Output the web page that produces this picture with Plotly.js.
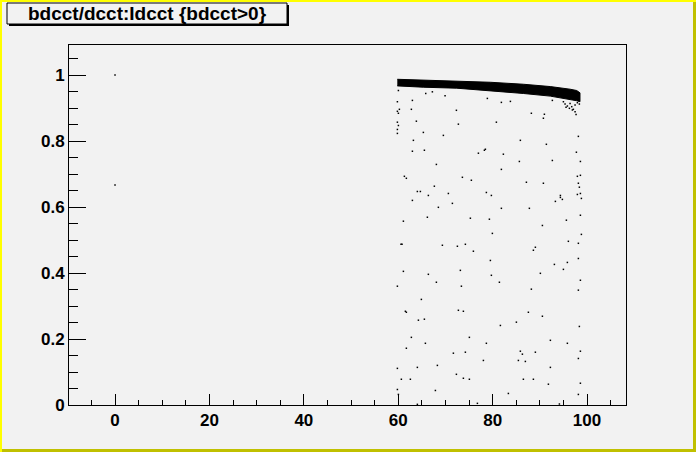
<!DOCTYPE html>
<html><head><meta charset="utf-8">
<script src="https://cdn.plot.ly/plotly-3.0.1.min.js"></script>
<style>html,body{margin:0;padding:0;background:#f2f2f2}#chart{width:696px;height:452px}</style>
</head><body><div id="chart"></div>
<script>
// Dense band (upper and lower edge of the band of points)
const bandX      = [59.8, 65.3, 72.4, 79.5, 86.5, 92.2, 96.4, 97.8, 98.5];
const bandTop    = [0.987, 0.985, 0.982, 0.978, 0.972, 0.965, 0.957, 0.953, 0.946];
const bandBottom = [0.967, 0.963, 0.960, 0.953, 0.944, 0.936, 0.926, 0.922, 0.919];

// Isolated points (Idcct, bdcct/dcct)
const ptsX = [0, 0,
  60.03, 65.82, 67.23, 69.92, 78.88, 83.69,
  59.82, 63.0, 60.24, 59.82, 60.03, 62.78, 72.32, 59.82, 60.03, 63.84, 72.74, 80.79,
  59.82, 59.82, 65.32, 69.56, 63.21, 63.0, 65.54, 76.98, 78.25, 78.46, 68.08, 61.30,
  61.72, 73.59, 75.49, 67.65, 64.05, 64.69, 66.38, 70.62, 78.67, 79.73, 63.0, 71.47,
  81.85, 83.76, 92.65, 88.20, 90.96, 90.75, 98.16, 85.87, 91.38, 97.74, 82.27, 92.65,
  85.66, 98.59, 81.85, 98.59, 97.95, 87.15, 90.75, 98.16, 98.37, 94.35, 94.35, 98.59,
  97.95, 94.77, 98.80, 93.29,
  94.99, 95.34, 95.83, 96.40, 96.75, 97.10, 97.46, 97.95, 98.37, 97.46, 97.67, 95.55, 96.26, 96.89,
  68.50, 61.09, 66.17, 75.28, 79.31, 79.94, 60.59, 60.80, 69.35, 72.53, 74.22, 75.92,
  79.52, 61.09, 66.38, 73.16, 79.73, 59.82, 68.08, 73.38, 81.43, 64.90,
  81.85, 87.78, 98.59, 95.62, 90.54, 98.80, 96.04, 98.16, 89.05, 88.63, 98.16, 95.83,
  93.08, 94.99, 90.11, 98.59, 88.20, 98.16,
  61.51, 61.72, 72.74, 73.80, 64.27, 65.54, 62.78, 75.07, 65.75, 78.67, 61.72, 71.68,
  74.22, 78.04, 68.29, 59.82, 64.05, 72.32, 60.66, 62.57, 73.80, 75.07, 67.87, 59.82,
  60.03, 64.05, 76.77,
  87.57, 90.54, 81.64, 85.03, 98.37, 92.23, 95.83, 85.87, 86.30, 89.05, 98.59, 85.45,
  86.93, 98.16, 92.23, 86.51, 88.63, 91.81, 98.59, 83.33, 98.16, 94.14];
const ptsY = [1.0, 0.667,
  0.953, 0.944, 0.949, 0.937, 0.929, 0.949,
  0.919, 0.923, 0.896, 0.890, 0.884, 0.896, 0.893, 0.857, 0.847, 0.860, 0.851, 0.857,
  0.835, 0.823, 0.826, 0.817, 0.802, 0.769, 0.772, 0.763, 0.772, 0.775, 0.729, 0.693,
  0.687, 0.690, 0.681, 0.663, 0.647, 0.647, 0.635, 0.641, 0.644, 0.635, 0.620, 0.611,
  0.917, 0.920, 0.923, 0.884, 0.881, 0.869, 0.814, 0.802, 0.790, 0.766, 0.760, 0.741,
  0.738, 0.738, 0.714, 0.696, 0.693, 0.675, 0.672, 0.672, 0.660, 0.635, 0.629, 0.641,
  0.638, 0.623, 0.626, 0.617,
  0.919, 0.912, 0.906, 0.914, 0.904, 0.896, 0.909, 0.916, 0.912, 0.889, 0.880, 0.902, 0.899, 0.894,
  0.599, 0.557, 0.569, 0.566, 0.563, 0.520, 0.487, 0.487, 0.484, 0.481, 0.487, 0.466,
  0.438, 0.405, 0.396, 0.408, 0.393, 0.360, 0.372, 0.360, 0.372, 0.320,
  0.596, 0.596, 0.575, 0.560, 0.544, 0.517, 0.496, 0.490, 0.478, 0.469, 0.444, 0.432,
  0.426, 0.411, 0.399, 0.378, 0.351, 0.348,
  0.284, 0.281, 0.287, 0.284, 0.257, 0.260, 0.205, 0.205, 0.187, 0.187, 0.172, 0.157,
  0.160, 0.135, 0.120, 0.111, 0.114, 0.093, 0.078, 0.078, 0.081, 0.078, 0.044, 0.047,
  0.032, 0.002, 0.005,
  0.281, 0.269, 0.241, 0.251, 0.238, 0.196, 0.187, 0.163, 0.154, 0.160, 0.163, 0.135,
  0.132, 0.141, 0.114, 0.078, 0.078, 0.063, 0.066, 0.035, 0.032, 0.003];

const titleText = 'bdcct/dcct:Idcct {bdcct>0}';

// helpers: pixel -> paper coordinates (plot area 69..626 x 45..405)
const L = 69, R = 626, T = 45, B = 405;
const fx = p => (p - L) / (R - L);
const fy = p => (B - p) / (B - T);

const band = {
  x: bandX.concat(bandX.slice().reverse()),
  y: bandTop.concat(bandBottom.slice().reverse()),
  type: 'scatter', mode: 'lines', fill: 'toself',
  fillcolor: '#000', line: {color: '#000', width: 1}, hoverinfo: 'skip'
};
const pts = {
  x: ptsX, y: ptsY, type: 'scatter', mode: 'markers',
  marker: {symbol: 'square', size: 1.5, color: '#000', line: {width: 0}}
};

const tickFont = {family: 'Liberation Sans, Arial, sans-serif', size: 17, color: '#000', weight: 'bold'};

const layout = {
  width: 696, height: 452,
  margin: {l: L, r: 696 - R, t: T, b: 452 - B, pad: 0},
  paper_bgcolor: '#f2f2f2', plot_bgcolor: '#f2f2f2',
  showlegend: false,
  title: {text: titleText, font: {family: 'Liberation Sans, Arial, sans-serif', size: 19, color: '#000', weight: 'bold'},
          x: 147 / 696, xanchor: 'center', xref: 'container', y: 1 - 13.5 / 452, yanchor: 'middle', yref: 'container'},
  xaxis: {range: [-9.75, 108.25], tick0: 0, dtick: 20, ticks: 'inside', ticklen: 11, tickwidth: 1, tickcolor: '#000',
          minor: {dtick: 5, tick0: 0, ticks: 'inside', ticklen: 5.5, tickcolor: '#000', tickwidth: 1},
          showline: true, linecolor: '#000', linewidth: 1, mirror: true, showgrid: false, zeroline: false,
          tickfont: tickFont},
  yaxis: {range: [0, 1.0909], tick0: 0, dtick: 0.2, ticks: 'inside', ticklen: 17, tickwidth: 1, tickcolor: '#000',
          minor: {dtick: 0.05, tick0: 0, ticks: 'inside', ticklen: 8.5, tickcolor: '#000', tickwidth: 1},
          showline: true, linecolor: '#000', linewidth: 1, mirror: true, showgrid: false, zeroline: false,
          tickfont: tickFont},
  shapes: [
    // title box shadow + box
    {type: 'rect', xref: 'paper', yref: 'paper', x0: fx(9), x1: fx(289), y0: fy(26), y1: fy(5), fillcolor: '#000', line: {width: 0}},
    {type: 'rect', xref: 'paper', yref: 'paper', x0: fx(7), x1: fx(287), y0: fy(24), y1: fy(3), fillcolor: '#f2f2f2', line: {color: '#000', width: 1}},
    // canvas border
    {type: 'rect', xref: 'paper', yref: 'paper', x0: fx(0), x1: fx(2), y0: fy(452), y1: fy(0), fillcolor: '#ffff00', line: {width: 0}},
    {type: 'rect', xref: 'paper', yref: 'paper', x0: fx(0), x1: fx(696), y0: fy(2), y1: fy(0), fillcolor: '#ffff00', line: {width: 0}},
    {type: 'rect', xref: 'paper', yref: 'paper', x0: fx(2), x1: fx(696), y0: fy(452), y1: fy(449), fillcolor: '#c0c000', line: {width: 0}},
    {type: 'rect', xref: 'paper', yref: 'paper', x0: fx(693), x1: fx(696), y0: fy(452), y1: fy(2), fillcolor: '#c0c000', line: {width: 0}}
  ]
};

Plotly.newPlot('chart', [band, pts], layout, {staticPlot: true, displayModeBar: false});
</script></body></html>
